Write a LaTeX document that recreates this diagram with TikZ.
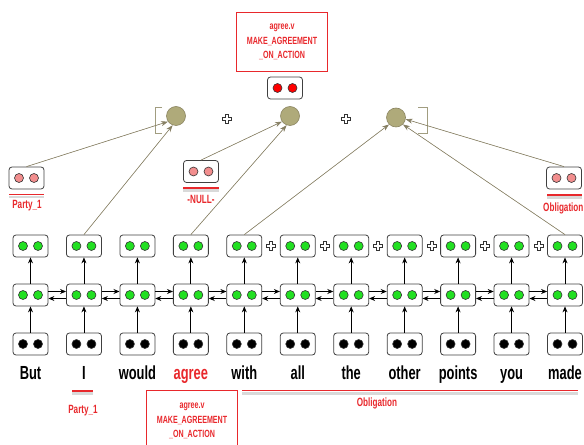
\documentclass[tikz,border=0pt]{standalone}
\usepackage{fontspec}
\setmainfont{Liberation Sans}[FakeStretch=0.68]
\usepackage{tikz}
\usetikzlibrary{arrows, arrows.meta, positioning, calc}

\definecolor{framered}{HTML}{E8282C}
\definecolor{dotgreen}{HTML}{22E022}
\definecolor{dotpink}{HTML}{F28E8E}
\definecolor{circfill}{HTML}{AFAA7A}
\definecolor{circline}{HTML}{8A8460}
\definecolor{linkcol}{HTML}{857E62}

% two dots inside a cell
\newcommand{\celldots}[2]{%
	\node[dot, fill=#2] (#1-l) at ([xshift=-7.5bp]#1.center) {};
	\node[dot, fill=#2] (#1-r) at ([xshift=7.5bp]#1.center) {};
}

\begin{document}
\begin{tikzpicture}[
			x = 1bp, y = -1bp,
			> = {Stealth[length=6bp, width=5bp]},
			cell/.style = {draw=black!75, fill=white, rounded corners=3bp, line width=0.8pt,
				minimum width=35bp, minimum height=22bp, inner sep=0pt},
			dot/.style = {circle, draw=black!80, line width=0.6pt, minimum size=9bp, inner sep=0pt},
			word/.style = {font=\fontsize{19}{19}\selectfont\bfseries},
			tag/.style = {text=framered, font=\fontsize{12}{14}\selectfont\bfseries, align=center},
			lubox/.style = {text=framered, font=\fontsize{10.5}{14.5}\selectfont\bfseries, align=center,
				minimum width=90bp, minimum height=58bp},
			luline/.style = {draw=framered, line width=1pt},
			role/.style = {circle, fill=circfill, draw=circline, line width=0.6pt, minimum size=19bp, inner sep=0pt},
			link/.style = {-{Stealth[length=7bp, width=5bp]}, draw=linkcol, fill=linkcol, line width=0.6pt},
			rnn/.style = {->, line width=0.8pt},
			bracket/.style = {draw=circline!80, line width=0.9pt},
			spanline/.style = {draw=framered, line width=1.1pt},
			spanshadow/.style = {draw=black!15, line width=3pt},
			plus/.pic = {
				\draw[fill=white, draw=black!80, line width=0.5pt]
					(-1.5,-4.5) -- (1.5,-4.5) -- (1.5,-1.5) -- (4.5,-1.5) -- (4.5,1.5) -- (1.5,1.5)
					-- (1.5,4.5) -- (-1.5,4.5) -- (-1.5,1.5) -- (-4.5,1.5) -- (-4.5,-1.5) -- (-1.5,-1.5) -- cycle;
			}
			]
			\useasboundingbox (0,0) rectangle (584,445);
			
			% Define frame
			\node[lubox] (lu) at (282,42) {agree.v\\MAKE\_AGREEMENT\\\_ON\_ACTION};
			\draw[luline] (lu.north west) rectangle (lu.south east);
			\node[cell] (frm) at (285,88) {};
			\celldots{frm}{red}
			
			% Define columns
			\foreach \w/\c [count=\i] in {But/black, I/black, would/black, agree/framered, with/black,
				all/black, the/black, other/black, points/black, you/black, made/black} {
				\pgfmathsetmacro{\x}{30.5+53.45*(\i-1)}
				\node[cell] (bot-\i) at (\x,344) {};
				\celldots{bot-\i}{black}
				\node[cell] (mid-\i) at (\x,295) {};
				\celldots{mid-\i}{dotgreen}
				\node[cell] (top-\i) at (\x,246) {};
				\celldots{top-\i}{dotgreen}
				\node[word, text=\c, anchor=base] (word-\i) at (\x,379) {\w};
			}
			
			% Define recurrent transitions
			\foreach \i in {1,...,11} {
				\draw[rnn] (bot-\i) -- (mid-\i);
				\draw[rnn] (mid-\i) -- (top-\i);
			}
			\foreach \i [evaluate=\i as \j using int(\i+1)] in {1,...,10} {
				\draw[rnn] ([yshift=3.5bp]mid-\i.east) -- ([yshift=3.5bp]mid-\j.west);
				\draw[rnn, <-] ([yshift=-3.5bp]mid-\i.east) -- ([yshift=-3.5bp]mid-\j.west);
			}
			\foreach \i in {5,...,10}
				\pic at (30.5+53.45*\i-26.7,246) {plus};
			
			% Define roles
			\node[role] (arg1) at (176,116) {};
			\node[role] (pred) at (290,116) {};
			\node[role] (arg2) at (396,117.5) {};
			\pic at (227,119) {plus};
			\pic at (346,119) {plus};
			\draw[bracket] (162,107) -- (155,107) -- (155,133) -- (162,133);
			\draw[bracket] (418,107) -- (427,107) -- (427,133) -- (418,133);
			
			\node[cell] (fe1) at (26.5,178) {};
			\celldots{fe1}{dotpink}
			\node[cell] (fe0) at (201,171.5) {};
			\celldots{fe0}{dotpink}
			\node[cell] (fe2) at (564,178) {};
			\celldots{fe2}{dotpink}
			\draw[spanshadow] (9,197) -- (44,197);
			\draw[spanline] (9,194.5) -- (44,194.5);
			\node[tag] (fe1-lab) at (27,206) {Party\_1};
			\draw[spanshadow] (183,190.5) -- (219,190.5);
			\draw[spanline] (183,188) -- (219,188);
			\node[tag] (fe0-lab) at (201,199) {-NULL-};
			\draw[spanshadow] (547,197.5) -- (582,197.5);
			\draw[spanline] (547,195) -- (582,195);
			\node[tag, anchor=west, inner sep=0pt] (fe2-lab) at (543,208) {Obligation};
			
			% Define role links
			\draw[link] (fe1.north) -- (arg1.215);
			\draw[link] (top-2.north) -- (arg1.250);
			\draw[link] (fe0.north) -- (pred.215);
			\draw[link] (top-4.north) -- (pred.250);
			\draw[link] (top-5.north) -- (arg2.225);
			\draw[link] (top-11.north) -- (arg2.315);
			\draw[link] (fe2.north) -- (arg2.350);
			
			% Define spans below the sentence
			\draw[spanshadow] (72,393.5) -- (93,393.5);
			\draw[spanline] (72,391) -- (93,391);
			\node[tag] (span-p1) at (83,411) {Party\_1};
			\node[lubox, anchor=north, minimum height=62bp] (lu-low) at (192,390) {agree.v\\MAKE\_AGREEMENT\\\_ON\_ACTION};
			\draw[luline] (lu-low.north west) rectangle (lu-low.south east);
			\draw[spanshadow] (242,393.5) -- (578,393.5);
			\draw[spanline] (242,390.5) -- (578,390.5);
			\node[tag] (span-obl) at (377,403) {Obligation};
			
		\end{tikzpicture}
\end{document}
